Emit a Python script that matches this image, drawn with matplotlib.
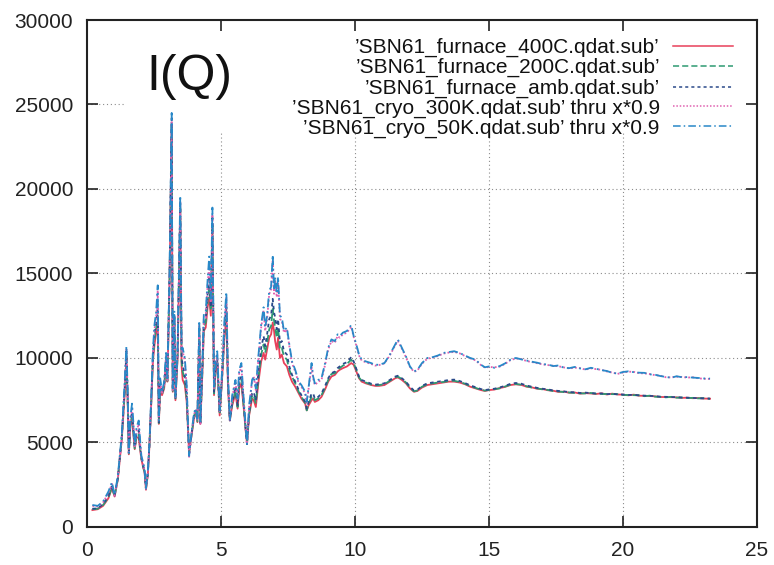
import numpy as np
import matplotlib
matplotlib.use("Agg")
import matplotlib.pyplot as plt
from matplotlib.patches import Rectangle

plt.rcParams['font.family'] = ['Liberation Sans', 'DejaVu Sans']

# Q values (shared by all five scans)
q = [0.2, 0.4, 0.6, 0.8, 0.93, 1.03, 1.15, 1.3, 1.42, 1.47,
     1.52, 1.56, 1.62, 1.68, 1.73, 1.78, 1.85, 1.93, 1.98, 2.03,
     2.1, 2.15, 2.2, 2.27, 2.33, 2.4, 2.46, 2.52, 2.58, 2.64,
     2.68, 2.73, 2.8, 2.88, 2.95, 3.0, 3.08, 3.16, 3.2, 3.26,
     3.3, 3.38, 3.48, 3.53, 3.57, 3.65, 3.72, 3.81, 3.9, 4.0,
     4.06, 4.12, 4.19, 4.23, 4.3, 4.36, 4.43, 4.5, 4.56, 4.62,
     4.68, 4.74, 4.8, 4.86, 4.95, 5.05, 5.12, 5.2, 5.26, 5.33,
     5.42, 5.54, 5.62, 5.68, 5.76, 5.85, 5.92, 5.97, 6.05, 6.16,
     6.22, 6.3, 6.4, 6.5, 6.59, 6.65, 6.72, 6.8, 6.87, 6.93,
     6.98, 7.02, 7.08, 7.13, 7.2, 7.27, 7.35, 7.46, 7.55, 7.65,
     7.77, 7.9, 8.0, 8.14, 8.2, 8.27, 8.38, 8.44, 8.5, 8.63,
     8.75, 8.9, 9.0, 9.12, 9.25, 9.35, 9.43, 9.55, 9.7, 9.86,
     9.95, 10.05, 10.15, 10.25, 10.4, 10.6, 10.75, 10.9, 11.1, 11.3,
     11.5, 11.6, 11.75, 11.9, 12.05, 12.2, 12.33, 12.5, 12.7, 12.9,
     13.1, 13.3, 13.5, 13.7, 13.9, 14.1, 14.3, 14.5, 14.7, 14.85,
     15.0, 15.2, 15.4, 15.6, 15.8, 16.0, 16.2, 16.4, 16.6, 16.8,
     17.0, 17.2, 17.4, 17.6, 17.8, 18.0, 18.2, 18.4, 18.6, 18.8,
     19.0, 19.2, 19.4, 19.6, 19.8, 20.0, 20.2, 20.4, 20.6, 20.8,
     21.0, 21.2, 21.4, 21.6, 21.8, 22.0, 22.2, 22.4, 22.6, 22.8,
     23.0, 23.25]

furnace_400C = [1000, 1050, 1250, 1700, 2300, 1800, 2800, 5200, 8200, 10000,
                7200, 4300, 6000, 6400, 5500, 4600, 5300, 5300, 4600, 4000,
                3500, 3200, 2200, 3100, 4800, 7400, 9800, 10800, 11500, 12000,
                6100, 8000, 7800, 8200, 9800, 8600, 14500, 23500, 8000, 12200,
                7500, 10000, 18800, 9500, 8700, 8400, 7400, 4400, 5400, 6500,
                6800, 6200, 11500, 6100, 8900, 11600, 11800, 13000, 13600, 12500,
                17500, 7800, 9200, 9800, 6600, 9000, 11000, 12500, 8300, 6300,
                7200, 7900, 7000, 8200, 8500, 7000, 5700, 4900, 6600, 7600,
                7500, 7100, 8600, 9800, 10300, 9900, 10500, 11200, 11400, 12100,
                11600, 11000, 10500, 11200, 10000, 10200, 9700, 9500, 9000, 8600,
                8300, 7900, 7600, 7300, 6900, 7200, 7500, 7600, 7400, 7500,
                7700, 8200, 8600, 8900, 9000, 9200, 9300, 9400, 9500, 9700,
                9600, 9200, 8800, 8600, 8500, 8400, 8350, 8350, 8400, 8600,
                8800, 8850, 8700, 8500, 8200, 8000, 8050, 8250, 8400, 8450,
                8500, 8550, 8600, 8600, 8550, 8450, 8300, 8200, 8100, 8050,
                8100, 8130, 8220, 8290, 8400, 8440, 8410, 8300, 8260, 8180,
                8160, 8090, 8060, 7990, 8010, 7940, 7960, 7890, 7920, 7900,
                7870, 7910, 7840, 7890, 7840, 7830, 7790, 7830, 7770, 7760,
                7750, 7730, 7690, 7690, 7680, 7670, 7640, 7650, 7620, 7630,
                7600, 7590]

furnace_200C = [1050, 1080, 1300, 1750, 2350, 1820, 2850, 5300, 8400, 10200,
                7400, 4350, 6100, 6600, 5600, 4650, 5400, 5500, 4700, 4050,
                3550, 3250, 2250, 3150, 4850, 7500, 10000, 11100, 11800, 12500,
                6150, 8200, 7850, 8300, 9900, 8650, 14700, 23900, 8050, 12400,
                7550, 10100, 19000, 9800, 9200, 8700, 7600, 4350, 5450, 6600,
                6850, 6250, 11700, 6100, 9000, 11900, 12100, 13400, 14200, 12800,
                18000, 7900, 9300, 9900, 6650, 9100, 11300, 12900, 8500, 6300,
                7300, 8100, 7100, 8500, 8800, 7100, 5750, 4900, 6700, 7800,
                7800, 7300, 8900, 10200, 10800, 10300, 10900, 11700, 11900, 12900,
                12200, 11800, 11200, 11800, 10500, 10600, 10100, 9900, 9300, 8900,
                8500, 8000, 7700, 7350, 6900, 7300, 7700, 7750, 7500, 7600,
                7800, 8300, 8700, 9050, 9100, 9300, 9400, 9550, 9650, 9900,
                9700, 9300, 8850, 8650, 8550, 8430, 8380, 8400, 8450, 8650,
                8850, 8900, 8750, 8550, 8250, 8030, 8080, 8300, 8450, 8500,
                8550, 8580, 8640, 8650, 8580, 8480, 8330, 8230, 8120, 8070,
                8110, 8160, 8200, 8310, 8420, 8460, 8420, 8330, 8250, 8200,
                8140, 8110, 8040, 8020, 7980, 7960, 7930, 7910, 7900, 7930,
                7880, 7870, 7870, 7860, 7860, 7810, 7810, 7800, 7790, 7740,
                7770, 7710, 7700, 7670, 7700, 7650, 7660, 7630, 7640, 7610,
                7620, 7580]

furnace_amb = [1080, 1100, 1350, 1850, 2450, 1850, 2900, 5400, 8600, 10400,
               7600, 4400, 6200, 6800, 5800, 4700, 5500, 5700, 4800, 4100,
               3600, 3300, 2250, 3200, 4900, 7600, 10100, 11400, 12100, 13000,
               6200, 8400, 7900, 8400, 10000, 8700, 14800, 24200, 8100, 12500,
               7600, 10200, 19300, 10000, 9600, 9000, 7800, 4300, 5500, 6700,
               6900, 6300, 11900, 6150, 9200, 12200, 12300, 13800, 14800, 13000,
               18300, 8000, 9500, 10000, 6700, 9200, 11500, 13200, 8700, 6300,
               7400, 8300, 7200, 8700, 9000, 7200, 5800, 4900, 6800, 7900,
               8000, 7500, 9200, 10600, 11300, 10700, 11400, 12300, 12500, 13500,
               12700, 12400, 11700, 12300, 10900, 11000, 10400, 10200, 9500, 9000,
               8600, 8100, 7800, 7400, 7000, 7400, 7900, 7900, 7600, 7700,
               7900, 8400, 8800, 9100, 9200, 9400, 9500, 9650, 9750, 10050,
               9800, 9350, 8900, 8700, 8600, 8480, 8420, 8450, 8500, 8700,
               8900, 8950, 8800, 8600, 8300, 8080, 8120, 8350, 8500, 8550,
               8600, 8640, 8700, 8720, 8640, 8520, 8380, 8270, 8160, 8100,
               8140, 8180, 8260, 8350, 8470, 8520, 8480, 8370, 8300, 8230,
               8180, 8140, 8080, 8050, 8020, 7980, 7970, 7930, 7950, 7920,
               7900, 7900, 7860, 7880, 7850, 7840, 7810, 7820, 7790, 7770,
               7760, 7740, 7710, 7700, 7690, 7680, 7660, 7650, 7640, 7620,
               7610, 7600]

cryo_300K = [1250, 1200, 1450, 2000, 2550, 1850, 2900, 5300, 8800, 10500,
             7800, 4300, 6300, 7100, 6000, 4700, 5700, 6100, 5000, 4100,
             3700, 3300, 2250, 3200, 4900, 7600, 10200, 11700, 12400, 14000,
             6200, 8600, 7900, 8400, 10100, 8700, 14700, 24000, 8100, 12500,
             7600, 10300, 19200, 10300, 10400, 9800, 8300, 4150, 5500, 6700,
             6900, 6300, 11900, 6100, 9300, 12300, 12400, 14300, 15600, 13300,
             18500, 8200, 9600, 10200, 6800, 9300, 11700, 13600, 8900, 6250,
             7700, 8600, 7500, 9100, 9500, 7400, 5900, 4900, 7100, 8600,
             8900, 8100, 10000, 11800, 12800, 11600, 12300, 13800, 14000, 15800,
             13800, 14600, 13600, 14500, 12300, 12200, 11500, 11700, 10700, 9700,
             9200, 8500, 8300, 7900, 7300, 8200, 9500, 8800, 8400, 8600,
             8700, 9700, 10500, 11000, 10900, 11300, 11200, 11400, 11500, 11850,
             11250, 10750, 10150, 9850, 9750, 9650, 9550, 9580, 9680, 10150,
             10750, 11000, 10550, 10050, 9480, 9180, 9260, 9660, 9960, 10020,
             10120, 10260, 10320, 10360, 10280, 10120, 9980, 9860, 9580, 9430,
             9470, 9450, 9490, 9650, 9870, 9970, 9940, 9820, 9760, 9690,
             9620, 9580, 9540, 9510, 9440, 9380, 9430, 9400, 9310, 9390,
             9340, 9300, 9200, 9140, 9060, 9140, 9190, 9180, 9100, 9090,
             9050, 8980, 8950, 8860, 8850, 8890, 8880, 8840, 8860, 8800,
             8770, 8760]

cryo_50K = [1300, 1250, 1500, 2100, 2650, 1900, 3000, 5500, 9000, 10700,
            8000, 4400, 6500, 7300, 6200, 4800, 5900, 6300, 5200, 4200,
            3800, 3400, 2300, 3300, 5000, 7800, 10500, 12000, 12700, 14300,
            6300, 8800, 8000, 8600, 10300, 8800, 15000, 24500, 8200, 12800,
            7700, 10500, 19600, 10500, 10600, 10000, 8400, 4200, 5600, 6800,
            7000, 6400, 12200, 6200, 9500, 12600, 12700, 14600, 16000, 13500,
            18900, 8300, 9800, 10400, 6900, 9500, 12000, 13900, 9000, 6300,
            7800, 8700, 7600, 9300, 9700, 7500, 6000, 4900, 7200, 8700,
            8900, 8200, 10200, 12000, 13000, 11800, 12500, 14000, 14200, 16100,
            14000, 14800, 13800, 14800, 12500, 12400, 11600, 11800, 10800, 9800,
            9300, 8600, 8400, 8000, 7400, 8300, 9700, 8900, 8500, 8700,
            8800, 9800, 10600, 11100, 11000, 11400, 11300, 11500, 11600, 11950,
            11300, 10800, 10200, 9900, 9800, 9700, 9600, 9600, 9700, 10200,
            10800, 11100, 10600, 10100, 9500, 9200, 9300, 9700, 10000, 10050,
            10150, 10300, 10350, 10400, 10300, 10150, 10000, 9900, 9600, 9450,
            9500, 9420, 9520, 9680, 9900, 10000, 9920, 9850, 9780, 9720,
            9640, 9610, 9520, 9560, 9420, 9400, 9470, 9380, 9330, 9420,
            9360, 9280, 9230, 9120, 9080, 9170, 9210, 9160, 9130, 9120,
            9030, 9010, 8930, 8880, 8830, 8920, 8860, 8870, 8840, 8820,
            8790, 8780]

labels = ["\u2019SBN61_furnace_400C.qdat.sub\u2019",
          "\u2019SBN61_furnace_200C.qdat.sub\u2019",
          "\u2019SBN61_furnace_amb.qdat.sub\u2019",
          "\u2019SBN61_cryo_300K.qdat.sub\u2019 thru x*0.9",
          "\u2019SBN61_cryo_50K.qdat.sub\u2019 thru x*0.9"]
series = [furnace_400C, furnace_200C, furnace_amb, cryo_300K, cryo_50K]
colors = ['#e8405a', '#2e9a72', '#2b4a8a', '#e060b0', '#2888c8']
styles = ['-', (0, (4, 2)), (0, (2, 2)), (0, (1, 1.2)), (0, (5, 2, 1, 2))]

xticks = [0, 5, 10, 15, 20, 25]
yticks = [0, 5000, 10000, 15000, 20000, 25000, 30000]

fig = plt.figure(figsize=(7.74, 5.65), dpi=100)
ax = fig.add_axes([0.1124, 0.0673, 0.8656, 0.8973])

# dotted grid, drawn by hand so the key box can hide part of it
for x in xticks[1:-1]:
    ax.axvline(x, color='#8c8c8c', lw=0.8, ls=(0, (1, 2.5)), zorder=0.5)
for y in yticks[1:-1]:
    ax.axhline(y, color='#8c8c8c', lw=0.8, ls=(0, (1, 2.5)), zorder=0.5)

# opaque key area
ax.add_patch(Rectangle((0.057, 0.781), 0.943, 0.219, transform=ax.transAxes,
                       facecolor='white', edgecolor='none', zorder=1))

for vals, lab, c, ls in zip(series, labels, colors, styles):
    ax.plot(q, vals, color=c, ls=ls, lw=1.3, zorder=2)

# key: right-justified text then the line sample (gnuplot style)
row_base = [0.9355, 0.896, 0.855, 0.816, 0.7765]
for i in range(len(labels)):
    yb = row_base[i]
    ax.text(0.855, yb, labels[i], transform=ax.transAxes, ha='right',
            va='baseline', fontsize=15, color='#111111', zorder=3)
    ax.plot([0.875, 0.964], [yb + 0.0138] * 2, transform=ax.transAxes,
            color=colors[i], ls=styles[i], lw=1.1, zorder=3)

ax.text(0.088, 0.862, 'I(Q)', transform=ax.transAxes, fontsize=36,
        va='baseline', ha='left', color='#111111', zorder=3)

ax.set_xlim(0, 25)
ax.set_ylim(0, 30000)
ax.set_xticks(xticks)
ax.set_yticks(yticks)
ax.tick_params(direction='in', length=8, width=1.2, top=True, right=True,
               labelsize=15, pad=10, colors='#222222')
for s in ax.spines.values():
    s.set_linewidth(1.5)
    s.set_color('#222222')

fig.savefig('out.png', dpi=100)
